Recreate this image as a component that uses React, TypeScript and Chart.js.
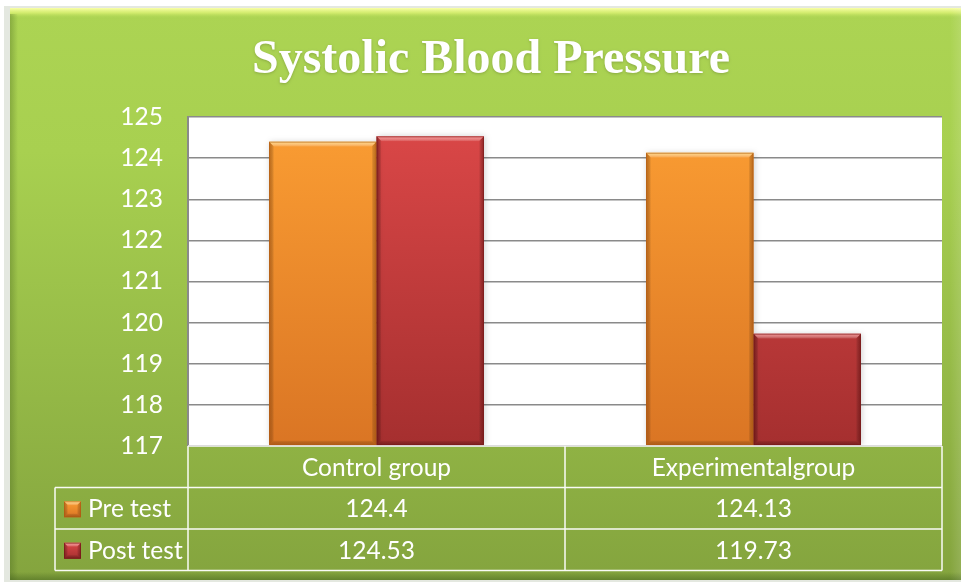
import React, { useEffect, useRef } from 'react';
import { Chart, registerables } from 'chart.js';

Chart.register(...registerables);

// ---------- data ----------
const categories = ['Control group', 'Experimentalgroup'];
const seriesNames = ['Pre test', 'Post test'];
const preTest = [124.4, 124.13];
const postTest = [124.53, 119.73];
const yMin = 117;
const yMax = 125;
const yStep = 1;
const chartTitle = 'Systolic Blood Pressure';

// ---------- styles ----------
const W = 961;
const H = 584;
const FONT = 'Lato, "Open Sans", sans-serif';
const FONT_SIZE = 24.5;
const seriesStyle = [
  { top: '#fb9e33', bottom: '#da7524', light: 'rgba(255,214,120,0.95)', dark: 'rgba(170,85,15,0.55)' },
  { top: '#dc4848', bottom: '#a52f2f', light: 'rgba(245,130,130,0.95)', dark: 'rgba(110,20,20,0.55)' },
];

function vGrad(ctx: CanvasRenderingContext2D, y0: number, y1: number, stops: [number, string][]) {
  const g = ctx.createLinearGradient(0, y0, 0, y1);
  stops.forEach(([o, c]) => g.addColorStop(o, c));
  return g;
}
function hGrad(ctx: CanvasRenderingContext2D, x0: number, x1: number, stops: [number, string][]) {
  const g = ctx.createLinearGradient(x0, 0, x1, 0);
  stops.forEach(([o, c]) => g.addColorStop(o, c));
  return g;
}

function drawBevelBox(ctx: CanvasRenderingContext2D, l: number, t: number, r: number, b: number, s: typeof seriesStyle[0], bev: number) {
  const w = r - l;
  const h = b - t;
  if (h <= 0) return;
  ctx.save();
  ctx.beginPath();
  ctx.moveTo(l, t);
  ctx.lineTo(r, t);
  ctx.lineTo(r - bev, t + bev);
  ctx.lineTo(l + bev, t + bev);
  ctx.closePath();
  ctx.fillStyle = vGrad(ctx, t, t + bev, [[0, s.light], [1, 'rgba(255,255,255,0.05)']]);
  ctx.fill();
  ctx.beginPath();
  ctx.moveTo(l, t);
  ctx.lineTo(l + bev, t + bev);
  ctx.lineTo(l + bev, b - bev);
  ctx.lineTo(l, b);
  ctx.closePath();
  ctx.fillStyle = hGrad(ctx, l, l + bev, [[0, s.dark], [1, 'rgba(0,0,0,0)']]);
  ctx.fill();
  ctx.beginPath();
  ctx.moveTo(r, t);
  ctx.lineTo(r - bev, t + bev);
  ctx.lineTo(r - bev, b - bev);
  ctx.lineTo(r, b);
  ctx.closePath();
  ctx.fillStyle = hGrad(ctx, r - bev, r, [[0, 'rgba(0,0,0,0)'], [1, s.dark]]);
  ctx.fill();
  ctx.beginPath();
  ctx.moveTo(l, b);
  ctx.lineTo(l + bev, b - bev);
  ctx.lineTo(r - bev, b - bev);
  ctx.lineTo(r, b);
  ctx.closePath();
  ctx.fillStyle = vGrad(ctx, b - bev, b, [[0, 'rgba(0,0,0,0)'], [1, s.dark]]);
  ctx.fill();
  ctx.strokeStyle = s.dark;
  ctx.lineWidth = 1;
  ctx.strokeRect(l + 0.5, t + 0.5, w - 1, h - 1);
  ctx.restore();
}

const backgroundPlugin = {
  id: 'frameBackground',
  beforeDraw(chart: any) {
    const { ctx, chartArea } = chart;
    ctx.save();
    ctx.fillStyle = '#ffffff';
    ctx.fillRect(0, 0, W, H);
    ctx.fillStyle = '#e4e8e0';
    ctx.fillRect(4, 6, W - 4, 576);
    ctx.fillStyle = vGrad(ctx, 8, 580, [
      [0, '#acd453'],
      [0.25, '#a8d050'],
      [0.6, '#97bc48'],
      [1, '#84a43e'],
    ]);
    ctx.fillRect(10, 8, W - 10, 572);
    ctx.fillStyle = vGrad(ctx, 8, 18, [
      [0, 'rgba(250,255,170,1)'],
      [0.5, 'rgba(225,245,120,0.7)'],
      [1, 'rgba(180,218,88,0)'],
    ]);
    ctx.fillRect(10, 8, W - 10, 10);
    ctx.fillStyle = hGrad(ctx, 10, 18, [[0, 'rgba(70,100,30,0.35)'], [1, 'rgba(70,100,30,0)']]);
    ctx.fillRect(10, 14, 8, 566);
    ctx.fillStyle = vGrad(ctx, 572, 580, [[0, 'rgba(60,90,25,0)'], [1, 'rgba(60,90,25,0.45)']]);
    ctx.fillRect(10, 572, W - 10, 8);
    ctx.fillStyle = hGrad(ctx, 950, 961, [[0, 'rgba(255,255,255,0)'], [1, 'rgba(255,255,255,0.12)']]);
    ctx.fillRect(950, 8, 11, 572);

    // title
    ctx.font = 'bold 48px "Liberation Serif", "DejaVu Serif", serif';
    const tw = ctx.measureText(chartTitle).width;
    const sx = 478 / tw;
    ctx.translate(491, 73);
    ctx.scale(sx, 1);
    ctx.textAlign = 'center';
    ctx.textBaseline = 'alphabetic';
    ctx.shadowColor = 'rgba(0,0,0,0.2)';
    ctx.shadowBlur = 3;
    ctx.shadowOffsetY = 1;
    ctx.fillStyle = '#ffffff';
    ctx.fillText(chartTitle, 0, 0);
    ctx.restore();

    ctx.save();
    ctx.fillStyle = '#ffffff';
    ctx.fillRect(chartArea.left, chartArea.top, chartArea.right - chartArea.left, chartArea.bottom - chartArea.top);
    ctx.restore();
  },
};

const barShadowPlugin = {
  id: 'barShadow',
  beforeDatasetsDraw(chart: any) {
    const ctx = chart.ctx;
    ctx.save();
    ctx.shadowColor = 'rgba(0,0,0,0.18)';
    ctx.shadowBlur = 6;
    ctx.shadowOffsetX = 1;
    ctx.shadowOffsetY = 0;
  },
  afterDatasetsDraw(chart: any) {
    const ctx = chart.ctx;
    ctx.restore();
    const bottom = chart.chartArea.bottom;
    chart.data.datasets.forEach((ds: any, di: number) => {
      const meta = chart.getDatasetMeta(di);
      meta.data.forEach((el: any) => {
        const { x, y, base, width } = el.getProps(['x', 'y', 'base', 'width'], true);
        drawBevelBox(ctx, x - width / 2, y, x + width / 2, Math.min(base, bottom), seriesStyle[di], 5);
      });
    });
  },
};

const tablePlugin = {
  id: 'dataTable',
  afterDraw(chart: any) {
    const { ctx, chartArea, scales } = chart;
    const xs = scales.x;
    const n = categories.length;
    const colW = (chartArea.right - chartArea.left) / n;
    const rowH = 41.5;
    const top = chartArea.bottom;
    const legendLeft = 55;
    const rows = [top, top + rowH, top + 2 * rowH, top + 3 * rowH];
    ctx.save();
    ctx.strokeStyle = 'rgba(255,255,255,0.95)';
    ctx.lineWidth = 1.5;
    ctx.beginPath();
    ctx.moveTo(chartArea.left, rows[0]);
    ctx.lineTo(chartArea.right, rows[0]);
    for (let r = 1; r <= 3; r++) {
      ctx.moveTo(legendLeft, rows[r]);
      ctx.lineTo(chartArea.right, rows[r]);
    }
    ctx.moveTo(legendLeft, rows[1]);
    ctx.lineTo(legendLeft, rows[3]);
    for (let i = 0; i <= n; i++) {
      const x = chartArea.left + i * colW;
      ctx.moveTo(x, rows[0]);
      ctx.lineTo(x, rows[3]);
    }
    ctx.stroke();

    ctx.fillStyle = '#ffffff';
    ctx.font = `${FONT_SIZE}px ${FONT}`;
    ctx.textAlign = 'center';
    ctx.textBaseline = 'middle';
    categories.forEach((c, i) => {
      const cx = xs.getPixelForValue(i);
      ctx.fillText(c, cx, (rows[0] + rows[1]) / 2 + 1);
    });
    const series = [preTest, postTest];
    series.forEach((vals, si) => {
      const cy = (rows[si + 1] + rows[si + 2]) / 2 + 1;
      vals.forEach((v, i) => {
        const cx = xs.getPixelForValue(i);
        ctx.fillText(String(v), cx, cy);
      });
      const s = seriesStyle[si];
      const kx = 64;
      const ky = cy - 8;
      ctx.save();
      ctx.fillStyle = vGrad(ctx, ky, ky + 16, [[0, s.top], [1, s.bottom]]);
      ctx.fillRect(kx, ky, 17, 16);
      drawBevelBox(ctx, kx, ky, kx + 17, ky + 16, s, 4);
      ctx.restore();
      ctx.textAlign = 'left';
      ctx.fillText(seriesNames[si], 88, cy);
      ctx.textAlign = 'center';
    });
    ctx.restore();
  },
};

function barFill(si: number) {
  return (context: any) => {
    const { chart } = context;
    const { ctx, chartArea } = chart;
    const s = seriesStyle[si];
    if (!chartArea) return s.top;
    return vGrad(ctx, chartArea.top, chartArea.bottom, [[0, s.top], [1, s.bottom]]);
  };
}

export default function App() {
  const ref = useRef<HTMLCanvasElement | null>(null);
  useEffect(() => {
    document.body.style.margin = '0';
    const canvas = ref.current!;
    const chart = new Chart(canvas, {
      type: 'bar',
      data: {
        labels: categories,
        datasets: [
          { label: seriesNames[0], data: preTest, backgroundColor: barFill(0), borderWidth: 0, base: yMin },
          { label: seriesNames[1], data: postTest, backgroundColor: barFill(1), borderWidth: 0, base: yMin },
        ],
      },
      options: {
        responsive: false,
        animation: false,
        devicePixelRatio: 1,
        layout: { padding: { left: 0, top: 117, right: W - 942, bottom: H - 446 } },
        plugins: {
          legend: { display: false },
          title: { display: false },
          tooltip: { enabled: false },
        },
        datasets: {
          bar: { categoryPercentage: 0.57, barPercentage: 1 },
        },
        scales: {
          x: { display: false },
          y: {
            min: yMin,
            max: yMax,
            afterFit(scale: any) {
              scale.width = 188;
            },
            ticks: {
              stepSize: yStep,
              color: '#ffffff',
              padding: 25,
              font: { family: FONT, size: FONT_SIZE },
            },
            grid: {
              color: '#8a8a8a',
              lineWidth: 1.5,
              drawTicks: false,
            },
            border: { display: true, color: '#8a8a8a', width: 2 },
          },
        },
      },
      plugins: [backgroundPlugin, barShadowPlugin, tablePlugin],
    } as any);
    return () => chart.destroy();
  }, []);
  return <canvas ref={ref} width={W} height={H} style={{ display: 'block', width: W, height: H }} />;
}
